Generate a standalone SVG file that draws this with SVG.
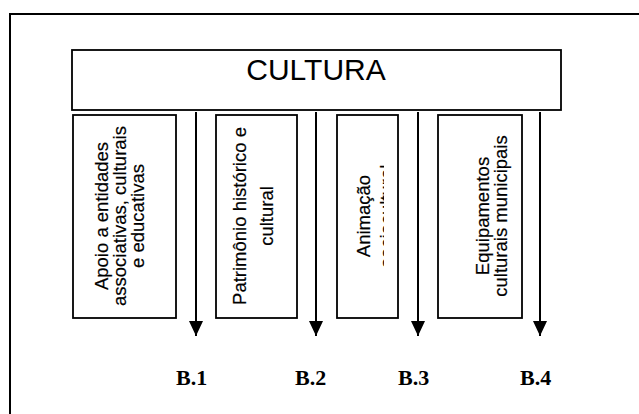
<svg xmlns="http://www.w3.org/2000/svg" width="639" height="414" viewBox="0 0 639 414">
  <style>
    .frame { fill: none; stroke: #000; stroke-width: 2; }
    .box { fill: #fff; stroke: #000; stroke-width: 1.8; }
    .title { font-family: "Liberation Sans", Arial, sans-serif; font-size: 30px; fill: #000; text-anchor: middle; }
    .lbl { font-family: "Liberation Sans", Arial, sans-serif; font-size: 18.5px; fill: #000; text-anchor: middle; stroke: #000; stroke-width: 0.2; }
    .code { font-family: "Liberation Serif", "Times New Roman", serif; font-size: 22px; font-weight: bold; fill: #000; }
    .arrow { stroke: #000; stroke-width: 2; fill: none; }
  </style>
  <defs>
    <!-- filled triangular head, drawn along +x so orient="auto" points it down the line -->
    <marker id="head" viewBox="0 0 15 14" refX="15" refY="7" markerWidth="15" markerHeight="14" markerUnits="userSpaceOnUse" orient="auto">
      <path d="M0 0 L15 7 L0 14 Z" fill="#000"/>
    </marker>
    <!-- the third box only shows the top edge of its second line -->
    <clipPath id="clip-b3">
      <rect x="337" y="115" width="47" height="203"/>
    </clipPath>
  </defs>

  <rect width="639" height="414" fill="#fff"/>

  <!-- outer frame: top and left edges -->
  <path class="frame" d="M10 414 V14 H639"/>

  <g id="cultura">
    <rect class="box" x="72" y="50" width="489" height="60"/>
    <text class="title" x="316" y="80">CULTURA</text>
  </g>

  <g id="b1">
    <rect class="box" x="73" y="115" width="103" height="203"/>
    <g transform="translate(0 216) rotate(-90)">
      <text class="lbl" x="0" y="108">Apoio a entidades</text>
      <text class="lbl" x="0" y="126">associativas, culturais</text>
      <text class="lbl" x="0" y="144">e educativas</text>
    </g>
  </g>

  <g id="b2">
    <rect class="box" x="216" y="115" width="81" height="203"/>
    <g transform="translate(0 216) rotate(-90)">
      <text class="lbl" x="0" y="246">Patrimônio histórico e</text>
      <text class="lbl" x="0" y="273">cultural</text>
    </g>
  </g>

  <g id="b3">
    <rect class="box" x="337" y="115" width="61" height="203"/>
    <g clip-path="url(#clip-b3)">
      <g transform="translate(0 216) rotate(-90)">
        <text class="lbl" x="0" y="370">Animação</text>
        <text class="lbl" x="0" y="393">sociocultural</text>
      </g>
    </g>
  </g>

  <g id="b4">
    <rect class="box" x="438" y="115" width="84" height="203"/>
    <g transform="translate(0 216) rotate(-90)">
      <text class="lbl" x="0" y="489">Equipamentos</text>
      <text class="lbl" x="0" y="507">culturais municipais</text>
    </g>
  </g>

  <g id="connectors">
    <line class="arrow" x1="196" y1="112" x2="196" y2="336" marker-end="url(#head)"/>
    <line class="arrow" x1="316" y1="112" x2="316" y2="336" marker-end="url(#head)"/>
    <line class="arrow" x1="418" y1="112" x2="418" y2="336" marker-end="url(#head)"/>
    <line class="arrow" x1="540" y1="112" x2="540" y2="336" marker-end="url(#head)"/>
  </g>

  <g id="codes">
    <text class="code" x="176" y="385">B.1</text>
    <text class="code" x="295" y="385">B.2</text>
    <text class="code" x="398" y="385">B.3</text>
    <text class="code" x="520" y="385">B.4</text>
  </g>
</svg>
